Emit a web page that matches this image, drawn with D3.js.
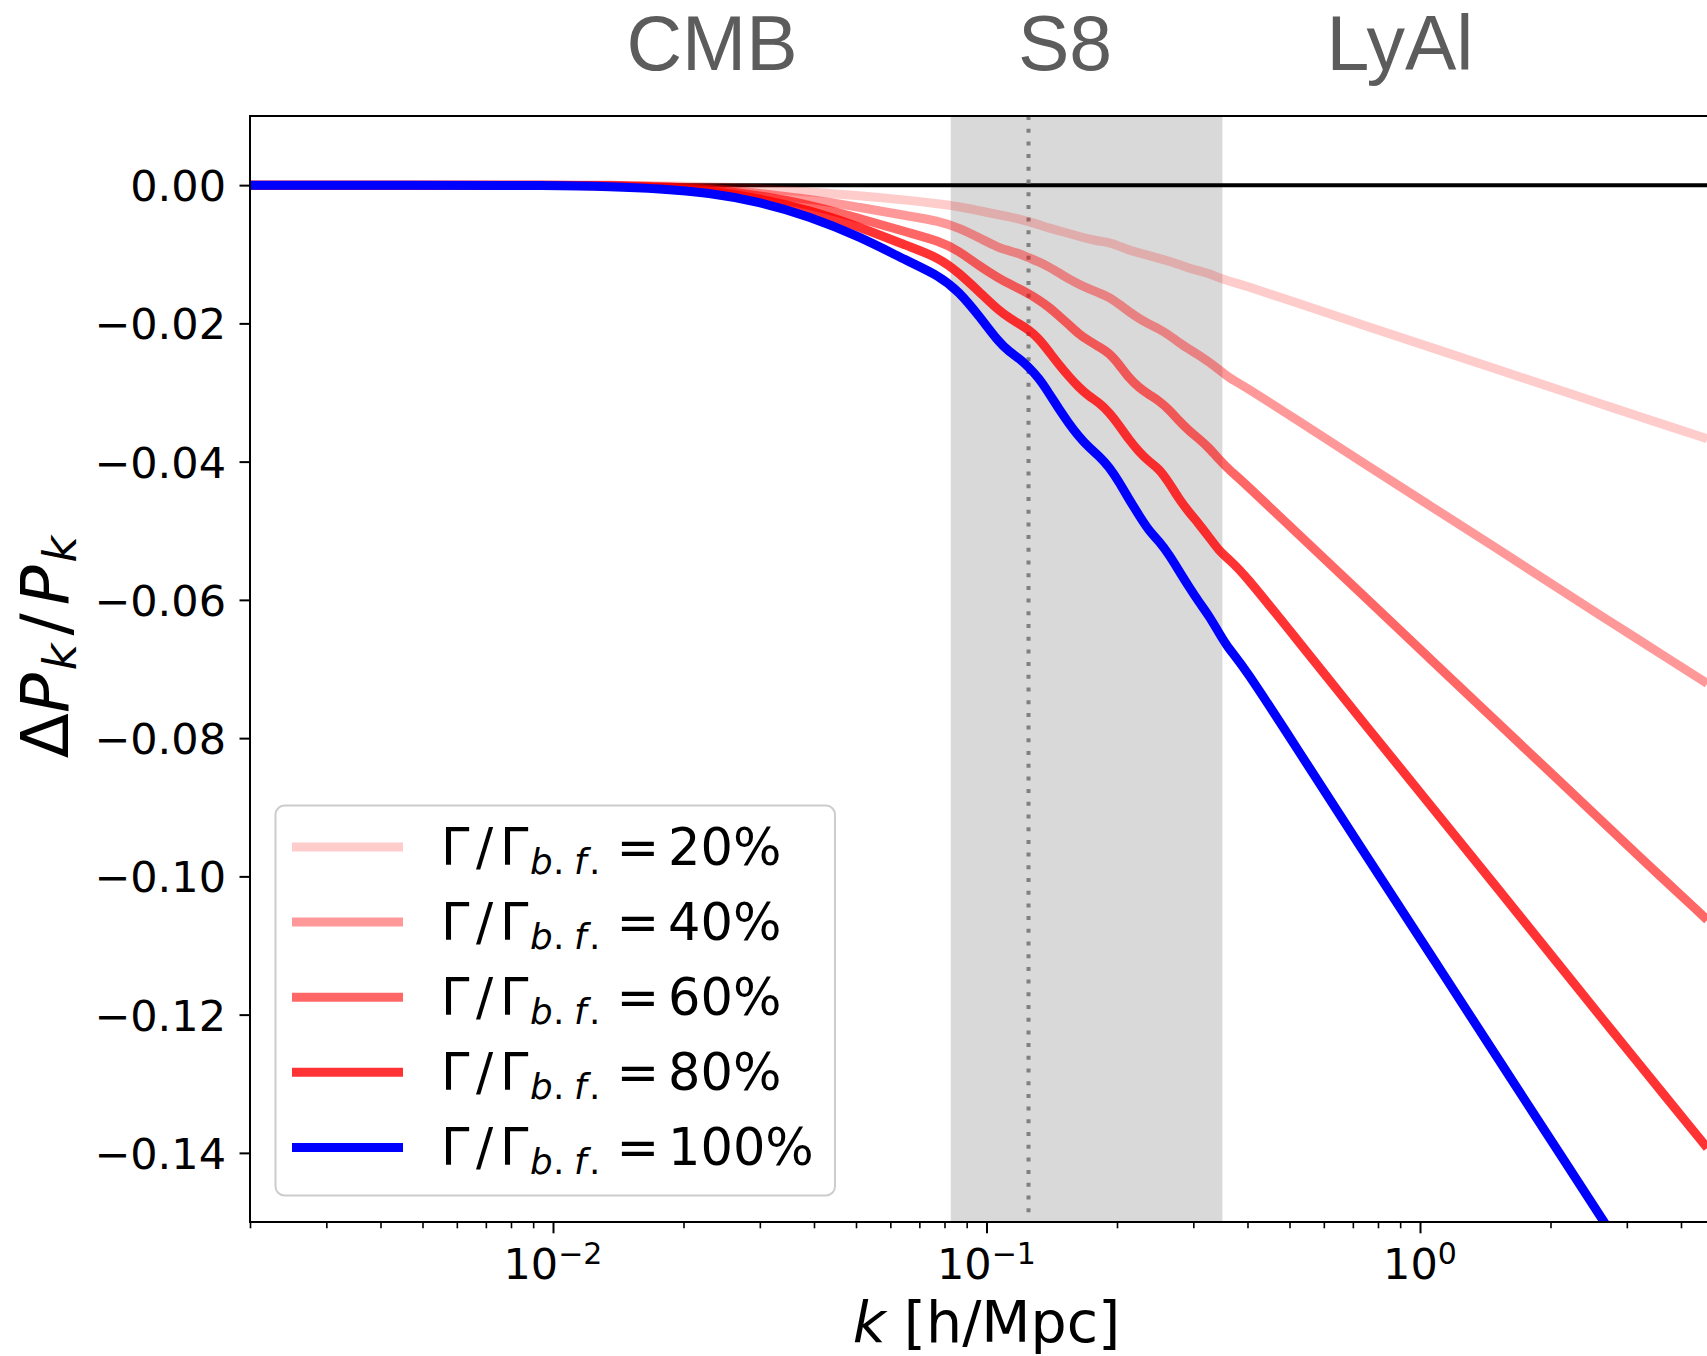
<!DOCTYPE html>
<html>
<head>
<meta charset="utf-8">
<script src="https://cdn.jsdelivr.net/npm/d3@7"></script>
<style>
  body { margin: 0; background: #ffffff; }
  svg { display: block; }
</style>
</head>
<body>
<script>
// ---------------- DATA ----------------
const kValues = [0.002, 0.0045, 0.0103, 0.0135, 0.0176, 0.0229, 0.0299, 0.039, 0.0508, 0.0663,
  0.0777, 0.0864, 0.0961, 0.107, 0.113, 0.119, 0.125, 0.132, 0.139, 0.147,
  0.155, 0.163, 0.172, 0.182, 0.192, 0.202, 0.213, 0.225, 0.237, 0.25,
  0.264, 0.278, 0.293, 0.309, 0.326, 0.344, 0.363, 0.389, 0.518, 0.735,
  1.05, 1.5, 2.13, 2.69, 3.04, 4.6];

const gamma20 = [0, 0, 0, 0, -0.0001, -0.0002, -0.0005, -0.0010, -0.0015, -0.0022,
  -0.0027, -0.0031, -0.0037, -0.0043, -0.0046, -0.0049, -0.0053, -0.0057, -0.0062, -0.0066,
  -0.0070, -0.0074, -0.0078, -0.0081, -0.0083, -0.0088, -0.0094, -0.0098, -0.0102, -0.0106,
  -0.0110, -0.0115, -0.0120, -0.0124, -0.0128, -0.0134, -0.0139, -0.0144, -0.0170, -0.0202,
  -0.0234, -0.0266, -0.0298, -0.0319, -0.0330, -0.0367];

const gamma40 = [0, 0, 0, 0, -0.0002, -0.0004, -0.0012, -0.0020, -0.0032, -0.0045,
  -0.0052, -0.0062, -0.0076, -0.0091, -0.0095, -0.0099, -0.0105, -0.0111, -0.0118, -0.0127,
  -0.0136, -0.0143, -0.0150, -0.0156, -0.0162, -0.0172, -0.0183, -0.0193, -0.0201, -0.0208,
  -0.0217, -0.0228, -0.0237, -0.0246, -0.0256, -0.0267, -0.0279, -0.0289, -0.0339, -0.0401,
  -0.0463, -0.0525, -0.0587, -0.0628, -0.0649, -0.0721];

const gamma60 = [0, 0, 0, -0.0001, -0.0002, -0.0006, -0.0015, -0.0028, -0.0048, -0.0069,
  -0.0081, -0.0095, -0.0117, -0.0135, -0.0143, -0.0150, -0.0157, -0.0166, -0.0176, -0.0189,
  -0.0202, -0.0215, -0.0225, -0.0234, -0.0243, -0.0259, -0.0279, -0.0293, -0.0303, -0.0312,
  -0.0325, -0.0341, -0.0355, -0.0367, -0.0380, -0.0397, -0.0412, -0.0428, -0.0502, -0.0592,
  -0.0684, -0.0776, -0.0866, -0.0926, -0.0958, -0.1063];

const gamma80 = [0, 0, 0, -0.0001, -0.0003, -0.0008, -0.0019, -0.0036, -0.0060, -0.0089,
  -0.0105, -0.0127, -0.0154, -0.0182, -0.0192, -0.0201, -0.0209, -0.0222, -0.0240, -0.0260,
  -0.0277, -0.0292, -0.0305, -0.0315, -0.0329, -0.0347, -0.0368, -0.0386, -0.0400, -0.0410,
  -0.0431, -0.0454, -0.0473, -0.0490, -0.0509, -0.0529, -0.0542, -0.0559, -0.0656, -0.0775,
  -0.0895, -0.1015, -0.1134, -0.1213, -0.1254, -0.1393];

const gamma100 = [0, 0, -0.00003, -0.0002, -0.0005, -0.0011, -0.0024, -0.0045, -0.0074, -0.0111,
  -0.0131, -0.0154, -0.0189, -0.0228, -0.0241, -0.0251, -0.0263, -0.0279, -0.0300, -0.0324,
  -0.0345, -0.0363, -0.0379, -0.0392, -0.0408, -0.0429, -0.0454, -0.0478, -0.0500, -0.0515,
  -0.0535, -0.0558, -0.0581, -0.0603, -0.0623, -0.0648, -0.0672, -0.0693, -0.0813, -0.0961,
  -0.1110, -0.1260, -0.1407, -0.1505, -0.1556, null];

const seriesLabels = ["20%", "40%", "60%", "80%", "100%"];
const seriesValues = [gamma20, gamma40, gamma60, gamma80, gamma100];

const yTickValues = [0, -0.02, -0.04, -0.06, -0.08, -0.10, -0.12, -0.14];
const xMajorTicks = [0.01, 0.1, 1];
const xTickBase = ["10", "10", "10"];
const xTickExp = ["\u22122", "\u22121", "0"];

const s8Band = [0.0827, 0.35];
const s8Scale = 0.125;

const regionLabels = ["CMB", "S8", "LyAl"];

// ---------------- STYLE ----------------
const seriesColor = ["#ff0000", "#ff0000", "#ff0000", "#ff0000", "#0000ff"];
const seriesOpacity = [0.2, 0.4, 0.6, 0.8, 1.0];
const regionLabelX = [712, 1065, 1400];

// ---------------- SETUP ----------------
const W = 1707, H = 1356;
const L = 250, T = 116, R = 1723, B = 1222;

const svg = d3.select("body").append("svg")
  .attr("width", W).attr("height", H)
  .style("font-family", "'DejaVu Sans', sans-serif");

const x = d3.scaleLog().domain([0.002, 5]).range([L, R]);
const y = d3.scaleLinear().domain([-0.15, 0.01]).range([B, T]);

svg.append("defs").append("clipPath").attr("id", "plotclip")
  .append("rect").attr("x", L).attr("y", T).attr("width", R - L).attr("height", B - T);

const plot = svg.append("g").attr("clip-path", "url(#plotclip)");

// shaded S8 band
plot.append("rect")
  .attr("x", x(s8Band[0])).attr("y", T)
  .attr("width", x(s8Band[1]) - x(s8Band[0])).attr("height", B - T)
  .attr("fill", "#808080").attr("fill-opacity", 0.3);

// zero line
plot.append("line")
  .attr("x1", L).attr("x2", R).attr("y1", y(0)).attr("y2", y(0))
  .attr("stroke", "#000").attr("stroke-width", 4);

// dotted S8 scale line
plot.append("line")
  .attr("x1", x(s8Scale)).attr("x2", x(s8Scale)).attr("y1", T).attr("y2", B)
  .attr("stroke", "#808080").attr("stroke-width", 4)
  .attr("stroke-dasharray", "4 8.7");

// curves
const lineGen = d3.line()
  .defined(d => d[1] !== null)
  .x(d => x(d[0])).y(d => y(d[1]))
  .curve(d3.curveBasis);

seriesValues.forEach((vals, i) => {
  const pts = kValues.map((k, j) => [k, vals[j]]);
  plot.append("path")
    .attr("d", lineGen(pts))
    .attr("fill", "none")
    .attr("stroke", seriesColor[i])
    .attr("stroke-opacity", seriesOpacity[i])
    .attr("stroke-width", 9)
    .attr("stroke-linejoin", "round");
});

// ---------------- AXES ----------------
const fmtY = v => (v < 0 ? "\u2212" : "") + Math.abs(v).toFixed(2);

const yAxis = svg.append("g").attr("transform", `translate(${L},0)`)
  .call(d3.axisLeft(y).tickValues(yTickValues).tickSize(10.5).tickPadding(13.5).tickFormat(fmtY));
yAxis.select(".domain").remove();
yAxis.selectAll(".tick line").attr("stroke", "#000").attr("stroke-width", 2);
yAxis.selectAll(".tick text")
  .attr("font-size", 43).attr("font-family", "'DejaVu Sans'")
  .attr("fill", "#000").attr("dy", "0.36em");

const minorTicks = x.ticks().filter(v => xMajorTicks.indexOf(v) < 0 &&
  Math.abs(Math.log10(v) - Math.round(Math.log10(v))) > 1e-9);

const xMinor = svg.append("g").attr("transform", `translate(0,${B})`)
  .call(d3.axisBottom(x).tickValues(minorTicks).tickSize(6.3).tickFormat(""));
xMinor.select(".domain").remove();
xMinor.selectAll(".tick line").attr("stroke", "#000").attr("stroke-width", 1.6);

const xMajor = svg.append("g").attr("transform", `translate(0,${B})`)
  .call(d3.axisBottom(x).tickValues(xMajorTicks).tickSize(11.3).tickFormat(""));
xMajor.select(".domain").remove();
xMajor.selectAll(".tick line").attr("stroke", "#000").attr("stroke-width", 2);

xMajorTicks.forEach((v, i) => {
  const t = svg.append("text")
    .attr("x", x(v)).attr("y", 1279)
    .attr("text-anchor", "middle")
    .attr("font-size", 43).attr("fill", "#000");
  t.append("tspan").text(xTickBase[i]);
  t.append("tspan").attr("font-size", 30).attr("dy", -15).text(xTickExp[i]);
});

// spines
const spine = (x1, y1, x2, y2) => svg.append("line")
  .attr("x1", x1).attr("y1", y1).attr("x2", x2).attr("y2", y2)
  .attr("stroke", "#000").attr("stroke-width", 2).attr("stroke-linecap", "square");
spine(L, T, L, B);
spine(L, T, R, T);
spine(L, B, R, B);
spine(R, T, R, B);

// axis labels
const xl = svg.append("text")
  .attr("x", (L + R) / 2).attr("y", 1342)
  .attr("text-anchor", "middle").attr("font-size", 57).attr("fill", "#000");
xl.append("tspan").attr("font-style", "italic").text("k");
xl.append("tspan").text(" [h/Mpc]");

const yl = svg.append("text")
  .attr("transform", "translate(68,647) rotate(-90)")
  .attr("text-anchor", "middle").attr("font-size", 66).attr("fill", "#000");
yl.append("tspan").text("\u0394");
yl.append("tspan").attr("font-style", "italic").text("P");
yl.append("tspan").attr("font-style", "italic").attr("font-size", 46).attr("dy", 8).attr("dx", 3).text("k");
yl.append("tspan").attr("dy", -8).attr("dx", 8).text("/");
yl.append("tspan").attr("font-style", "italic").attr("dx", 8).text("P");
yl.append("tspan").attr("font-style", "italic").attr("font-size", 46).attr("dy", 8).attr("dx", 3).text("k");

// region labels above plot
regionLabels.forEach((lab, i) => {
  svg.append("text")
    .attr("x", regionLabelX[i]).attr("y", 70)
    .attr("text-anchor", "middle")
    .attr("font-family", "'Liberation Sans', Arial, sans-serif")
    .attr("font-size", 77).attr("fill", "#5c5c5c")
    .text(lab);
});

// ---------------- LEGEND ----------------
const leg = svg.append("g");
leg.append("rect")
  .attr("x", 275.5).attr("y", 805.6).attr("width", 559.5).attr("height", 389.8)
  .attr("rx", 9).attr("ry", 9)
  .attr("fill", "#ffffff").attr("fill-opacity", 0.8)
  .attr("stroke", "#cccccc").attr("stroke-width", 2);

seriesLabels.forEach((lab, i) => {
  const cy = 847 + i * 75.1;
  leg.append("line")
    .attr("x1", 292).attr("x2", 403).attr("y1", cy).attr("y2", cy)
    .attr("stroke", seriesColor[i]).attr("stroke-opacity", seriesOpacity[i])
    .attr("stroke-width", 9);
  const t = leg.append("text").attr("y", cy + 18).attr("font-size", 51).attr("fill", "#000");
  const bx = 441;
  t.append("tspan").attr("x", bx).text("\u0393");
  t.append("tspan").attr("x", bx + 35).text("/");
  t.append("tspan").attr("x", bx + 59).text("\u0393");
  t.append("tspan").attr("x", bx + 89).attr("dy", 9).attr("font-size", 35.7).attr("font-style", "italic").text("b");
  t.append("tspan").attr("x", bx + 112).attr("font-size", 35.7).text(".");
  t.append("tspan").attr("x", bx + 133).attr("font-size", 35.7).attr("font-style", "italic").text("f");
  t.append("tspan").attr("x", bx + 148).attr("font-size", 35.7).text(".");
  t.append("tspan").attr("x", bx + 175.5).attr("dy", -9).text("=");
  t.append("tspan").attr("x", bx + 227).text(lab);
});
</script>
</body>
</html>
